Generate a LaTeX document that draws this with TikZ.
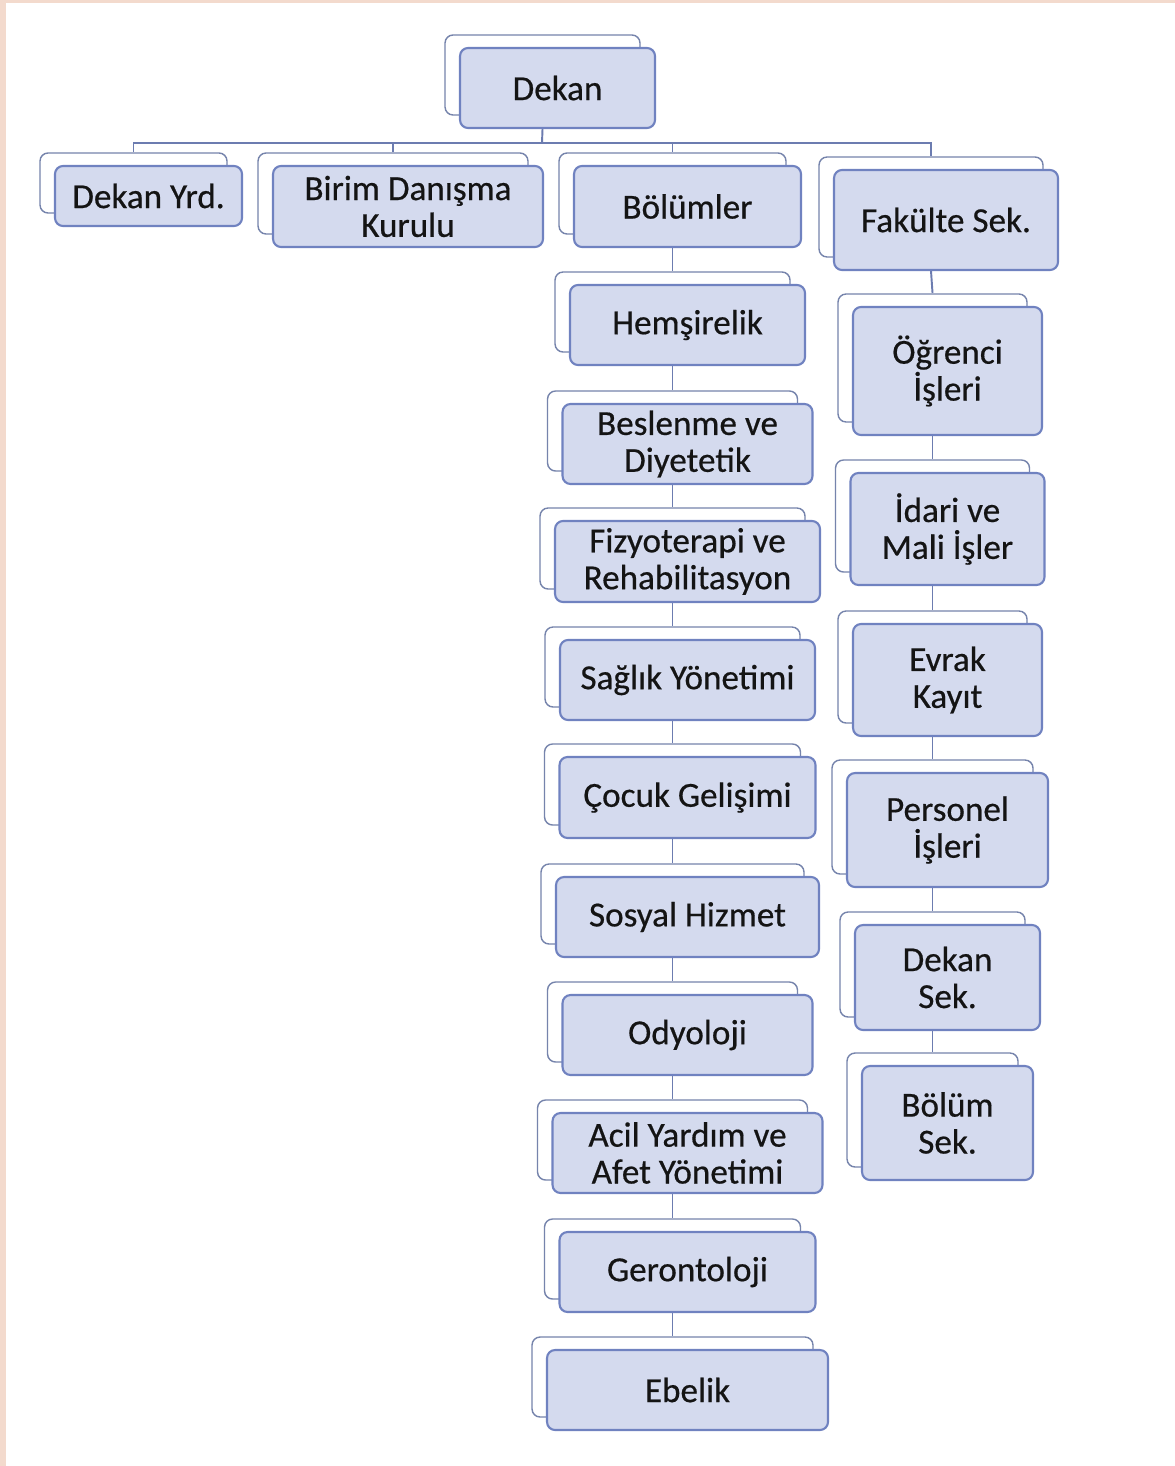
\documentclass[tikz,border=0pt]{standalone}
\usepackage{fontspec}
\setmainfont{Carlito}
\newfontfamily\boxfont{Carlito}[FakeBold=0.5]
\usetikzlibrary{backgrounds}
\definecolor{boxfill}{RGB}{212,218,238}
\definecolor{boxline}{RGB}{112,130,192}
\definecolor{backline}{RGB}{118,132,172}
\definecolor{linkline}{RGB}{108,124,176}
\definecolor{pagepink}{RGB}{243,218,205}
\tikzset{
    unitbox/.style={rectangle, rounded corners=0.16cm, draw=boxline, line width=1.2pt, fill=boxfill,
        inner sep=0pt, align=center, text=black!92, font=\boxfont\fontsize{20pt}{21pt}\selectfont,
        preaction={draw=backline, line width=0.8pt, fill=white,
            transform canvas={xshift=-0.3cm, yshift=0.26cm}}},
    link/.style={draw=linkline, line width=1.1pt}
}
\begin{document}
\begin{tikzpicture}[x=0.02cm, y=-0.02cm]
        \useasboundingbox (0,0) rectangle (1175,1466);

        \node[unitbox, minimum width=3.9cm, minimum height=1.6cm] (dekan) at (557.5,88) {Dekan};

        \node[unitbox, minimum width=3.74cm, minimum height=1.2cm] (yrd) at (148.5,196) {Dekan Yrd.};
        \node[unitbox, minimum width=5.4cm, minimum height=1.62cm] (birim) at (408,206.5) {Birim Danışma\\Kurulu};
        \node[unitbox, minimum width=4.54cm, minimum height=1.62cm] (bolumler) at (687.5,206.5) {Bölümler};
        \node[unitbox, minimum width=4.48cm, minimum height=2cm] (fakulte) at (946,220) {Fakülte Sek.};

        \begin{scope}[every node/.style={unitbox, minimum height=1.6cm}]
            \node[minimum width=4.7cm] (hemsire) at (687.5,325) {Hemşirelik};
            \node[minimum width=5cm] (beslenme) at (687.5,444) {Beslenme ve\\Diyetetik};
            \node[minimum width=5.3cm, minimum height=1.62cm] (fizyo) at (687.5,561.5) {Fizyoterapi ve\\Rehabilitasyon};
            \node[minimum width=5.1cm] (saglik) at (687.5,680) {Sağlık Yönetimi};
            \node[minimum width=5.12cm, minimum height=1.62cm] (cocuk) at (687.5,797.5) {Çocuk Gelişimi};
            \node[minimum width=5.26cm] (sosyal) at (687.5,917) {Sosyal Hizmet};
            \node[minimum width=5cm] (odyo) at (687.5,1035) {Odyoloji};
            \node[minimum width=5.4cm] (acil) at (687.5,1153) {Acil Yardım ve\\Afet Yönetimi};
            \node[minimum width=5.12cm] (geronto) at (687.5,1272) {Gerontoloji};
            \node[minimum width=5.62cm] (ebelik) at (687.5,1390) {Ebelik};
        \end{scope}

        \begin{scope}[every node/.style={unitbox}]
            \node[minimum width=3.78cm, minimum height=2.56cm] (ogrenci) at (947.5,371) {Öğrenci\\İşleri};
            \node[minimum width=3.88cm, minimum height=2.24cm] (idari) at (947.5,529) {İdari ve\\Mali İşler};
            \node[minimum width=3.78cm, minimum height=2.24cm] (evrak) at (947.5,680) {Evrak\\Kayıt};
            \node[minimum width=4.02cm, minimum height=2.28cm] (personel) at (947.5,830) {Personel\\İşleri};
            \node[minimum width=3.7cm, minimum height=2.1cm] (dekansek) at (947.5,977.5) {Dekan\\Sek.};
            \node[minimum width=3.42cm, minimum height=2.28cm] (bolumsek) at (947.5,1123) {Bölüm\\Sek.};
        \end{scope}

        \begin{scope}[on background layer]
            \fill[pagepink] (0,0) rectangle (1175,1466);
            \fill[white] (6,3) rectangle (1175,1466);
            \coordinate (hub) at (542,143);
            \draw[link] ([xshift=-0.3cm]dekan.south) -- (hub);
            \foreach \b in {yrd, birim, bolumler, fakulte}
                \draw[link] (hub) -| ([xshift=-0.3cm, yshift=0.26cm]\b.north);
            \foreach \a/\b in {bolumler/hemsire, hemsire/beslenme, beslenme/fizyo, fizyo/saglik,
                    saglik/cocuk, cocuk/sosyal, sosyal/odyo, odyo/acil, acil/geronto, geronto/ebelik,
                    fakulte/ogrenci, ogrenci/idari, idari/evrak, evrak/personel,
                    personel/dekansek, dekansek/bolumsek}
                \draw[link] ([xshift=-0.3cm]\a.south) -- ([xshift=-0.3cm, yshift=0.26cm]\b.north);
        \end{scope}
    \end{tikzpicture}
\end{document}
